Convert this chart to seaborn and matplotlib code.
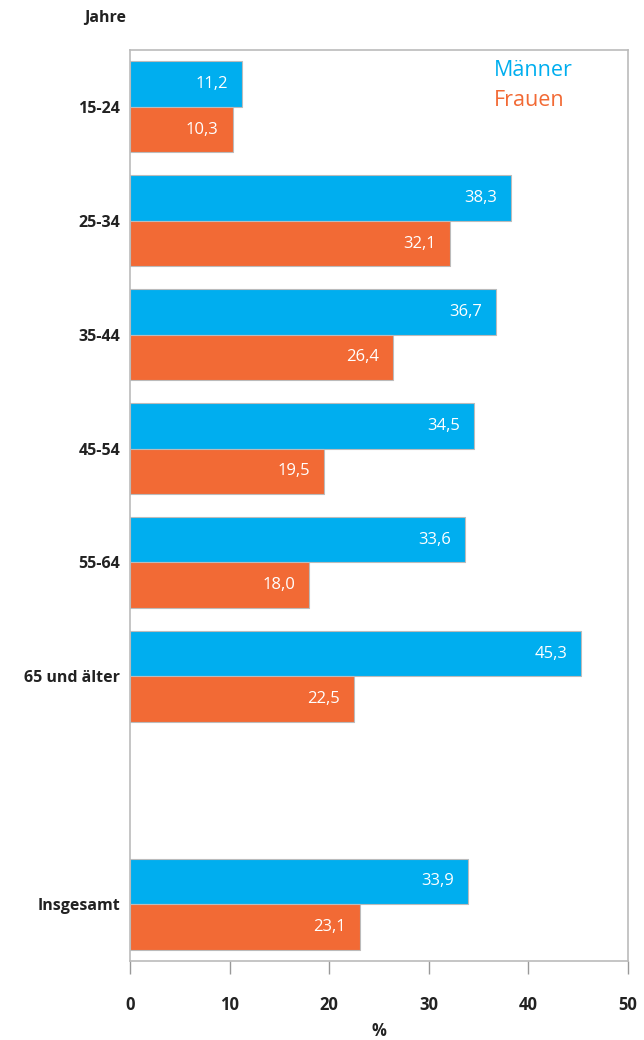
import matplotlib
matplotlib.use("Agg")
import matplotlib.pyplot as plt
import seaborn as sns
import pandas as pd

categories = ["15-24", "25-34", "35-44", "45-54", "55-64", "65 und älter", "Insgesamt"]
maenner = [11.2, 38.3, 36.7, 34.5, 33.6, 45.3, 33.9]
frauen = [10.3, 32.1, 26.4, 19.5, 18.0, 22.5, 23.1]
series = ["Männer", "Frauen"]
colors = ["#00AEEF", "#F26A35"]
xticks = [0, 10, 20, 30, 40, 50]

sns.set_theme(style="white")
plt.rcParams["font.family"] = ["Open Sans", "DejaVu Sans"]

df = pd.DataFrame({
    "Kategorie": categories * 2,
    "Wert": maenner + frauen,
    "Geschlecht": [series[0]] * len(categories) + [series[1]] * len(categories),
})
order = categories[:6] + [" "] + categories[6:]

fig = plt.figure(figsize=(6.44, 10.4), dpi=100)
ax = fig.add_axes([130 / 644, 1 - 961 / 1040, 498 / 644, 911 / 1040])
sns.barplot(data=df, y="Kategorie", x="Wert", hue="Geschlecht", order=order,
            hue_order=series, palette=colors, orient="h", width=0.8,
            saturation=1, edgecolor="#BBBBBB", linewidth=0.8, ax=ax, legend=False)

for cont in ax.containers:
    labels = [f"{v:.1f}".replace(".", ",") for v in cont.datavalues]
    ax.bar_label(cont, labels=labels, padding=-10, color="white",
                 fontsize=12, label_type="edge")
for t in ax.texts:
    t.set_horizontalalignment("right")

ax.set_xlim(0, 50)
ax.set_ylim(7.5, -0.5)
ax.set_xticks(xticks)
ax.set_xticklabels([str(x) for x in xticks], fontweight="bold", fontsize=12, color="#222222")
ax.tick_params(axis="x", length=9, width=1, color="#999999", pad=16, bottom=True)
ax.tick_params(axis="y", length=0, pad=7)
for lbl in ax.get_yticklabels():
    lbl.set_fontweight("bold")
    lbl.set_fontsize(11.5)
    lbl.set_color("#222222")
ax.set_ylabel("")
ax.set_xlabel("%", fontweight="bold", fontsize=12, color="#222222", labelpad=6)
for s in ax.spines.values():
    s.set_color("#BBBBBB")
    s.set_linewidth(1.2)
    s.set_visible(True)

fig.text(105 / 644, 1 - 18 / 1040, "Jahre", ha="center", va="center",
         fontweight="bold", fontsize=11.5, color="#222222")
ax.text(0.73, 0.977, series[0], transform=ax.transAxes, ha="left", va="center",
        color=colors[0], fontsize=15.5)
ax.text(0.73, 0.945, series[1], transform=ax.transAxes, ha="left", va="center",
        color=colors[1], fontsize=15.5)

fig.savefig("out.png", dpi=100)
